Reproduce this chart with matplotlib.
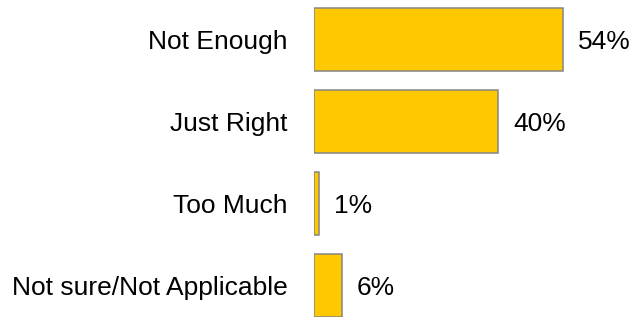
import matplotlib
matplotlib.use("Agg")
import matplotlib.pyplot as plt

categories = ["Not Enough", "Just Right", "Too Much", "Not sure/Not Applicable"]
values = [54, 40, 1, 6]
value_labels = ["54%", "40%", "1%", "6%"]

plt.rcParams['font.family'] = ['Liberation Sans', 'DejaVu Sans']

W, H = 635, 317
fig = plt.figure(figsize=(W / 100, H / 100), dpi=100)
px_per_unit = 4.61
xmax = 60
ax = fig.add_axes([314 / W, 0, xmax * px_per_unit / W, 1])

pos = list(range(len(categories)))
ax.barh(pos, values, height=0.77, color="#FFC800", edgecolor="#858585", linewidth=1.1)
ax.set_xlim(0, xmax)
ax.set_ylim(3.384, -0.482)
ax.axis("off")

fs = 19
cap_half = 0.716 * fs / 2
for p, cat, v, lab in zip(pos, categories, values, value_labels):
    ax.annotate(cat, xy=(0, p), xytext=(-19, -cap_half), textcoords="offset points",
                ha="right", va="baseline", fontsize=fs, color="#000000")
    ax.annotate(lab, xy=(v, p), xytext=(11, -cap_half), textcoords="offset points",
                ha="left", va="baseline", fontsize=fs, color="#000000")

fig.savefig("out.png", dpi=100)
